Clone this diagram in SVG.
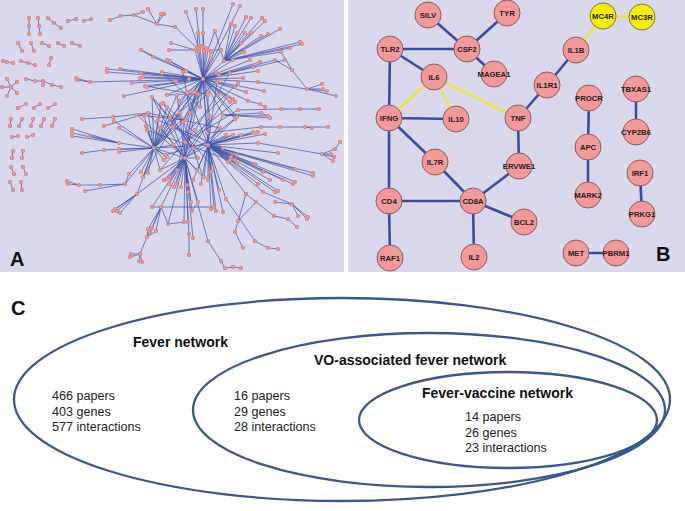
<svg xmlns="http://www.w3.org/2000/svg" xmlns:xlink="http://www.w3.org/1999/xlink" width="685" height="511" viewBox="0 0 685 511">
<style>
.bg{fill:#dad8ec}
.ae{fill:none;stroke:#4353a8;stroke-width:0.8;stroke-opacity:0.9}
.ad1{fill:none;stroke:#c47c74;stroke-width:4.2;stroke-linecap:round}
.ad2{fill:none;stroke:#e99b90;stroke-width:3;stroke-linecap:round}
.bn circle{fill:#f29a9a;stroke:#8d5c5c;stroke-width:1}
.by circle{fill:#f4ec0c;stroke:#7d7a2a;stroke-width:1}
.bn text,.by text{font-family:'Liberation Sans',Arial,sans-serif;font-weight:bold;font-size:7.7px;text-anchor:middle;fill:#2b1b1b}
.eb{stroke:#3b4d9e;stroke-width:2.6;fill:none}
.ey{stroke:#ebe54c;stroke-width:2.6;fill:none}
.lbl{font-family:'Liberation Sans',Arial,sans-serif;font-weight:bold;font-size:20px;fill:#111}
.ell{fill:none;stroke:#37598e;stroke-width:2.3}
.ct{font-family:'Liberation Sans',Arial,sans-serif;font-size:12.6px;fill:#222}
.ch{font-family:'Liberation Sans',Arial,sans-serif;font-weight:bold;font-size:14px;fill:#111}
</style>
<defs>
<path id="adots" d="M29 18h0M29 26h0M29 34h0M38 18h0M39 26h0M40 34h0M48 18h0M54 23h0M61 28h0M68 21h0M76 19h0M84 21h0M91 19h0M18 43h0M22 51h0M31 43h0M34 51h0M42 43h0M49 46h0M58 43h0M64 46h0M72 43h0M80 46h0M3 61h0M7 62h0M13 63h0M21 61h0M28 63h0M35 65h0M51 58h0M49 65h0M11 87h0M7 79h0M17 82h0M2 87h0M17 93h0M7 96h0M26 79h0M35 81h0M43 81h0M52 85h0M61 87h0M43 85h0M18 108h0M26 104h0M34 108h0M40 104h0M48 108h0M55 104h0M11 119h0M10 126h0M22 119h0M19 126h0M33 119h0M31 126h0M44 119h0M41 126h0M55 119h0M52 126h0M12 137h0M18 136h0M27 137h0M33 135h0M13 151h0M12 158h0M23 151h0M22 158h0M11 167h0M14 174h0M23 167h0M26 174h0M10 182h0M13 190h0M21 182h0M22 190h0
M203 79h0M197 48h0M200 46h0M203 47h0M206 48h0M199 51h0M204 51h0M208 50h0M211 52h0M195 50h0M224 61h0M154 148h0M185 158h0M208 145h0
M110 20h0M120 16h0M134 15h0M143 12h0M148 9h0M157 24h0M161 14h0M164 14h0M175 27h0M186 12h0M196 9h0M203 9h0M198 33h0M203 33h0M215 31h0M171 43h0M169 50h0
M233 4h0M240 6h0M246 17h0M251 18h0M262 18h0M265 21h0M231 24h0M235 26h0M237 33h0M245 33h0M251 33h0M261 36h0M268 34h0M280 29h0M241 43h0M300 42h0M302 44h0M290 48h0M281 52h0M244 52h0M221 50h0M211 59h0M233 60h0M250 60h0M260 62h0M275 60h0M285 60h0M258 71h0M253 67h0M219 75h0M216 72h0M230 73h0M243 78h0M258 82h0M246 92h0M264 91h0M235 87h0M233 99h0M230 102h0M218 95h0M208 95h0M198 94h0M193 92h0M188 92h0M179 101h0M186 71h0M189 79h0M176 81h0M162 72h0M153 57h0M167 60h0M170 61h0M141 50h0M120 69h0M107 69h0M107 72h0M141 73h0M143 77h0M140 78h0M132 83h0M147 87h0M76 78h0M77 80h0M90 82h0
M235 119h0M186 120h0M170 118h0M210 117h0M200 107h0M223 115h0M190 113h0M207 133h0M185 142h0M183 122h0M237 117h0
M238 110h0M281 109h0M300 109h0M319 109h0M248 101h0M260 104h0M265 107h0M261 113h0M268 116h0M270 118h0M261 127h0M280 127h0M305 127h0M328 127h0M312 128h0M255 133h0M265 134h0M307 89h0M322 84h0M323 89h0M327 91h0M336 96h0M292 70h0
M82 119h0M113 117h0M148 113h0M104 126h0M114 121h0M119 128h0M137 115h0M144 116h0M146 126h0M124 96h0M72 129h0M72 133h0M72 136h0M90 136h0M119 143h0M119 149h0M119 152h0M82 153h0M104 150h0
M152 97h0M161 104h0M167 107h0M158 120h0M147 130h0M160 128h0M173 127h0M165 155h0M173 145h0M167 157h0M164 160h0M141 172h0M129 174h0M148 173h0M143 177h0M160 170h0M125 184h0M137 194h0
M177 170h0M197 170h0M170 177h0M203 177h0M181 187h0M176 184h0M174 187h0M169 184h0M164 180h0M167 179h0M187 185h0M188 192h0M191 202h0M198 202h0M192 211h0M184 222h0M188 222h0M161 207h0M152 207h0M189 234h0M193 238h0M198 158h0M193 148h0M208 241h0M168 224h0M189 255h0
M213 167h0M219 190h0M226 199h0M223 212h0M214 207h0M211 209h0M216 211h0M211 172h0M201 184h0M204 177h0M208 180h0M193 180h0M231 157h0M235 160h0M237 155h0M228 162h0M223 148h0M230 160h0M237 163h0M241 135h0M233 135h0M226 135h0M253 132h0M258 132h0M255 164h0M263 172h0M295 169h0M313 173h0M313 176h0M270 180h0M283 180h0M258 184h0M246 194h0M263 192h0M275 192h0M278 191h0M293 184h0M295 182h0M220 128h0M258 143h0M278 153h0M322 154h0M331 154h0M334 157h0M333 161h0M335 149h0M340 142h0
M256 202h0M238 221h0M235 232h0M243 248h0M274 216h0M288 219h0M297 227h0M275 202h0M292 204h0M298 216h0M307 219h0M308 217h0M255 241h0M268 248h0M278 249h0M221 261h0M225 268h0M233 267h0M241 268h0M147 237h0M140 254h0M131 254h0M130 257h0M139 261h0M142 262h0M152 228h0M148 229h0M156 231h0M150 233h0
M115 209h0M117 211h0M120 213h0M113 211h0M67 181h0M68 184h0M79 185h0M100 185h0M85 191h0
M162 73h0M183 72h0M217 82h0M145 86h0M163 103h0M167 95h0M177 95h0M187 93h0M195 92h0M208 93h0M227 97h0M235 102h0M238 83h0M180 113h0M195 130h0"/>
</defs>

<rect class="bg" x="0" y="0" width="344" height="272"/>
<rect class="bg" x="348" y="0" width="337" height="272"/>

<g id="panel-a">
<path class="ae" d="M29 18L29 34M38 18L39 26L40 34M48 18L54 23L61 28M68 21L76 19M84 21L91 19M18 43L22 51M31 43L34 51M42 43L49 46M58 43L64 46M72 43L80 46M3 61L7 62L13 63M21 61L28 63L35 65M51 58L49 65M11 87L7 79M11 87L17 82M11 87L2 87M11 87L17 93M11 87L7 96M26 79L35 81L43 81L52 85L61 87M43 81L43 85M18 108L26 104M34 108L40 104M48 108L55 104M11 119L10 126M22 119L19 126M33 119L31 126M44 119L41 126M55 119L52 126M12 137L18 136M27 137L33 135M13 151L12 158M23 151L22 158M11 167L14 174M23 167L26 174M10 182L13 190M21 182L22 190
M110 20L120 16L134 15L143 12M134 15L157 24M148 9L157 24M161 14L157 24M164 14L157 24M157 24L175 27L197 48
M186 12L199 48M196 9L200 46M203 9L203 47M198 33L197 48M203 33L204 51M215 31L208 50M171 43L195 50M169 50L195 50
M197 48L203 79M200 46L203 79M203 47L203 79M206 48L203 79M199 51L203 79M204 51L203 79M208 50L203 79M211 52L203 79M195 50L203 79M208 50L221 50
M203 79L233 4M203 79L240 6
M224 61L246 17M224 61L251 18M224 61L262 18M224 61L265 21M224 61L231 24M224 61L235 26M224 61L237 33M224 61L245 33M224 61L251 33M224 61L261 36M224 61L268 34M224 61L280 29M224 61L241 43M224 61L300 42M224 61L302 44M224 61L290 48M224 61L281 52M224 61L244 52M224 61L203 79M224 61L215 31
M203 79L221 50M203 79L211 59M203 79L233 60M203 79L250 60M203 79L260 62M203 79L275 60M203 79L285 60M203 79L258 71M203 79L253 67M203 79L219 75M203 79L216 72M203 79L230 73M203 79L243 78M203 79L258 82M203 79L246 92M203 79L264 91M203 79L235 87M203 79L233 99M203 79L230 102M203 79L218 95M203 79L208 95M203 79L198 94M203 79L193 92M203 79L188 92M203 79L179 101M203 79L186 71M203 79L189 79M203 79L176 81M203 79L162 72M203 79L153 57M203 79L167 60M203 79L170 61M203 79L141 50M203 79L120 69M203 79L107 69M203 79L107 72M203 79L141 73M203 79L143 77M203 79L140 78M203 79L132 83M203 79L147 87
M76 78L90 82L203 79M77 80L90 82M141 50L153 57
M203 79L235 119M203 79L186 120M203 79L170 118M203 79L210 117M203 79L200 107M203 79L223 115M203 79L190 113M203 79L207 133M203 79L185 142M203 79L208 145M203 79L183 122M203 79L154 148M203 79L185 158M203 79L237 117
M238 110L281 109L300 109L319 109M248 101L260 104L265 107M203 79L248 101M261 113L223 115M268 116L223 115M270 118L223 115M261 113L268 116
M207 133L261 127L280 127L305 127L328 127M305 127L312 128M255 133L208 145M265 134L208 145
M307 89L322 84M307 89L323 89M307 89L327 91M307 89L336 96M307 89L292 70M292 70L281 52M307 89L258 82M292 70L275 60M238 110L185 142
M82 119L113 117L148 113M104 126L148 113M114 121L154 148M119 128L154 148M137 115L186 120M144 116L154 148M146 126L154 148M124 96L203 79
M72 129L119 143M72 133L119 143M72 136L119 143M90 136L119 143M119 143L154 148M119 149L154 148M119 152L154 148M82 153L104 150L154 148
M154 148L152 97M154 148L161 104M154 148L167 107M154 148L148 113M154 148L158 120M154 148L147 130M154 148L160 128M154 148L173 127M154 148L170 118M154 148L165 155M154 148L173 145M154 148L167 157M154 148L164 160M154 148L141 172M154 148L129 174M154 148L148 173M154 148L143 177M154 148L160 170M154 148L185 158M154 148L208 145M154 148L186 120M154 148L125 184M154 148L137 194
M185 158L160 170M185 158L177 170M185 158L197 170M185 158L170 177M185 158L203 177M185 158L181 187M185 158L176 184M185 158L174 187M185 158L169 184M185 158L164 180M185 158L167 179M185 158L187 185M185 158L188 192M185 158L191 202M185 158L198 202M185 158L192 211M185 158L184 222M185 158L188 222M185 158L161 207M185 158L152 207M185 158L137 194M185 158L189 234M185 158L193 238M185 158L198 158M185 158L193 148M185 158L183 122M185 158L208 145M185 158L173 145M185 158L185 142M185 158L160 128M185 158L170 118M185 158L148 113M185 158L137 115M185 158L208 241M185 158L168 224M189 234L189 255M192 211L198 202
M208 145L213 167M208 145L219 190M208 145L226 199M208 145L223 212M208 145L214 207M208 145L211 209M208 145L216 211M208 145L211 172M208 145L201 184M208 145L204 177M208 145L208 180M208 145L193 180M208 145L231 157M208 145L235 160M208 145L237 155M208 145L228 162M208 145L223 148M208 145L230 160M208 145L237 163M208 145L241 135M208 145L233 135M208 145L226 135M208 145L253 132M208 145L258 132M208 145L255 164M208 145L263 172M208 145L295 169M208 145L313 173M208 145L313 176M208 145L270 180M208 145L283 180M208 145L258 184M208 145L246 194M208 145L263 192M208 145L275 192M208 145L278 191M208 145L293 184M208 145L295 182M208 145L220 128M208 145L237 117M208 145L210 117M208 145L207 133M208 145L258 143M208 145L278 153
M258 143L322 154L331 154M322 154L334 157M322 154L333 161M322 154L335 149L340 142
M256 202L238 221L235 232L243 248M238 221L246 194M256 202L246 194M256 202L274 216L288 219L297 227M275 202L292 204M292 204L298 216M292 204L307 219M292 204L308 217M263 192L292 204M255 241L268 248L278 249M255 241L226 199M221 261L208 241M221 261L225 268L233 267L241 268M152 207L214 207M168 224L161 207M168 224L184 222
M147 237L140 254M140 254L131 254M140 254L130 257M140 254L139 261M140 254L142 262M147 237L152 228M147 237L148 229M147 237L156 231M152 228L161 207M148 229L161 207M156 231L161 207M150 233L161 207
M115 209L137 194M117 211L137 194M120 213L137 194M113 211L137 194M67 181L79 185M68 184L79 185M79 185L100 185L125 184M85 191L125 184M125 184L129 174
M145 86L187 93M152 97L185 158M163 103L208 145M167 95L208 93M177 95L185 158M187 93L208 145M195 92L154 148M208 93L154 148M227 97L185 158M235 102L185 142M238 83L173 145M162 73L200 107M183 72L190 113M217 82L160 128M230 73L195 130M148 113L220 128M158 120L223 148M180 113L143 177M190 113L177 170M210 117L170 177M223 115L197 170M237 117L185 158M147 130L237 163M173 127L230 160M195 130L160 170M233 135L165 155M193 148L152 97M198 158L163 103M213 167L152 97M203 177L180 113M145 86L203 79M167 95L203 79M177 95L154 148M187 93L154 148M195 92L185 158M208 93L208 145M227 97L203 79M217 82L208 145M235 102L203 79"/>
<use xlink:href="#adots" class="ad1"/>
<use xlink:href="#adots" class="ad2"/>
<text class="lbl" x="10" y="266">A</text>
</g>

<g id="edges-b">
<line class="eb" x1="428" y1="15" x2="467" y2="49"/>
<line class="eb" x1="507" y1="13" x2="467" y2="49"/>
<line class="eb" x1="390" y1="49" x2="467" y2="49"/>
<line class="eb" x1="467" y1="49" x2="494" y2="74"/>
<line class="eb" x1="390" y1="49" x2="434" y2="77"/>
<line class="eb" x1="390" y1="49" x2="389" y2="118"/>
<line class="eb" x1="389" y1="118" x2="456" y2="119"/>
<line class="eb" x1="389" y1="118" x2="435" y2="162"/>
<line class="eb" x1="389" y1="118" x2="389" y2="201"/>
<line class="eb" x1="435" y1="162" x2="473" y2="201"/>
<line class="eb" x1="389" y1="201" x2="473" y2="201"/>
<line class="eb" x1="389" y1="201" x2="390" y2="258"/>
<line class="eb" x1="473" y1="201" x2="519" y2="166"/>
<line class="eb" x1="473" y1="201" x2="524" y2="222"/>
<line class="eb" x1="473" y1="201" x2="474" y2="257"/>
<line class="eb" x1="519" y1="166" x2="518" y2="118"/>
<line class="eb" x1="518" y1="118" x2="547" y2="85"/>
<line class="eb" x1="547" y1="85" x2="576" y2="50"/>
<line class="eb" x1="589" y1="98" x2="588" y2="147"/>
<line class="eb" x1="588" y1="147" x2="588" y2="195"/>
<line class="eb" x1="636" y1="89" x2="636" y2="132"/>
<line class="eb" x1="640" y1="173" x2="642" y2="214"/>
<line class="eb" x1="576" y1="253" x2="616" y2="253"/>
<line class="ey" x1="576" y1="50" x2="603" y2="16"/>
<line class="ey" x1="603" y1="16" x2="642" y2="17"/>
<line class="ey" x1="434" y1="77" x2="389" y2="118"/>
<line class="ey" x1="434" y1="77" x2="456" y2="119"/>
<line class="ey" x1="434" y1="77" x2="518" y2="118"/>
</g>

<g id="n-silv" class="bn"><circle cx="428" cy="15" r="13"/><text x="428" y="17.7">SILV</text></g>
<g id="n-tyr" class="bn"><circle cx="507" cy="13" r="13"/><text x="507" y="15.7">TYR</text></g>
<g id="n-mc4r" class="by"><circle cx="603" cy="16" r="13"/><text x="603" y="18.7">MC4R</text></g>
<g id="n-mc3r" class="by"><circle cx="642" cy="17" r="13"/><text x="642" y="19.7">MC3R</text></g>
<g id="n-tlr2" class="bn"><circle cx="390" cy="49" r="13"/><text x="390" y="51.7">TLR2</text></g>
<g id="n-csf2" class="bn"><circle cx="467" cy="49" r="13"/><text x="467" y="51.7">CSF2</text></g>
<g id="n-il1b" class="bn"><circle cx="576" cy="50" r="13"/><text x="576" y="52.7">IL1B</text></g>
<g id="n-il6" class="bn"><circle cx="434" cy="77" r="13"/><text x="434" y="79.7">IL6</text></g>
<g id="n-magea1" class="bn"><circle cx="494" cy="74" r="13"/><text x="494" y="76.7">MAGEA1</text></g>
<g id="n-il1r1" class="bn"><circle cx="547" cy="85" r="13"/><text x="547" y="87.7">IL1R1</text></g>
<g id="n-tbxas1" class="bn"><circle cx="636" cy="89" r="13"/><text x="636" y="91.7">TBXAS1</text></g>
<g id="n-procr" class="bn"><circle cx="589" cy="98" r="13"/><text x="589" y="100.7">PROCR</text></g>
<g id="n-ifng" class="bn"><circle cx="389" cy="118" r="13"/><text x="389" y="120.7">IFNG</text></g>
<g id="n-il10" class="bn"><circle cx="456" cy="119" r="13"/><text x="456" y="121.7">IL10</text></g>
<g id="n-tnf" class="bn"><circle cx="518" cy="118" r="13"/><text x="518" y="120.7">TNF</text></g>
<g id="n-cyp2b6" class="bn"><circle cx="636" cy="132" r="13"/><text x="636" y="134.7">CYP2B6</text></g>
<g id="n-apc" class="bn"><circle cx="588" cy="147" r="13"/><text x="588" y="149.7">APC</text></g>
<g id="n-il7r" class="bn"><circle cx="435" cy="162" r="13"/><text x="435" y="164.7">IL7R</text></g>
<g id="n-ervwe1" class="bn"><circle cx="519" cy="166" r="13"/><text x="519" y="168.7">ERVWE1</text></g>
<g id="n-irf1" class="bn"><circle cx="640" cy="173" r="13"/><text x="640" y="175.7">IRF1</text></g>
<g id="n-mark2" class="bn"><circle cx="588" cy="195" r="13"/><text x="588" y="197.7">MARK2</text></g>
<g id="n-cd4" class="bn"><circle cx="389" cy="201" r="13"/><text x="389" y="203.7">CD4</text></g>
<g id="n-cd8a" class="bn"><circle cx="473" cy="201" r="13"/><text x="473" y="203.7">CD8A</text></g>
<g id="n-bcl2" class="bn"><circle cx="524" cy="222" r="13"/><text x="524" y="224.7">BCL2</text></g>
<g id="n-prkg1" class="bn"><circle cx="642" cy="214" r="13"/><text x="642" y="216.7">PRKG1</text></g>
<g id="n-raf1" class="bn"><circle cx="390" cy="258" r="13"/><text x="390" y="260.7">RAF1</text></g>
<g id="n-il2" class="bn"><circle cx="474" cy="257" r="13"/><text x="474" y="259.7">IL2</text></g>
<g id="n-met" class="bn"><circle cx="576" cy="253" r="13"/><text x="576" y="255.7">MET</text></g>
<g id="n-pbrm1" class="bn"><circle cx="616" cy="253" r="13"/><text x="616" y="255.7">PBRM1</text></g>
<text class="lbl" x="656" y="261">B</text>

<g id="panel-c">
<text class="lbl" x="11" y="315">C</text>
<g id="fever-network"><ellipse class="ell" cx="342" cy="399.5" rx="328" ry="101.5"/>
<text class="ch" x="133" y="347">Fever network</text>
<text class="ct" x="52" y="400">466 papers</text>
<text class="ct" x="52" y="415.5">403 genes</text>
<text class="ct" x="52" y="431">577 interactions</text></g>
<g id="vo-network"><ellipse class="ell" cx="429" cy="410" rx="236" ry="77"/>
<text class="ch" x="314" y="365">VO-associated fever network</text>
<text class="ct" x="234" y="400">16 papers</text>
<text class="ct" x="234" y="415.5">29 genes</text>
<text class="ct" x="234" y="431">28 interactions</text></g>
<g id="vaccine-network"><ellipse class="ell" cx="508" cy="420" rx="149" ry="48"/>
<text class="ch" x="422" y="398">Fever-vaccine network</text>
<text class="ct" x="465" y="421">14 papers</text>
<text class="ct" x="465" y="436.5">26 genes</text>
<text class="ct" x="465" y="452">23 interactions</text></g>
</g>
</svg>
